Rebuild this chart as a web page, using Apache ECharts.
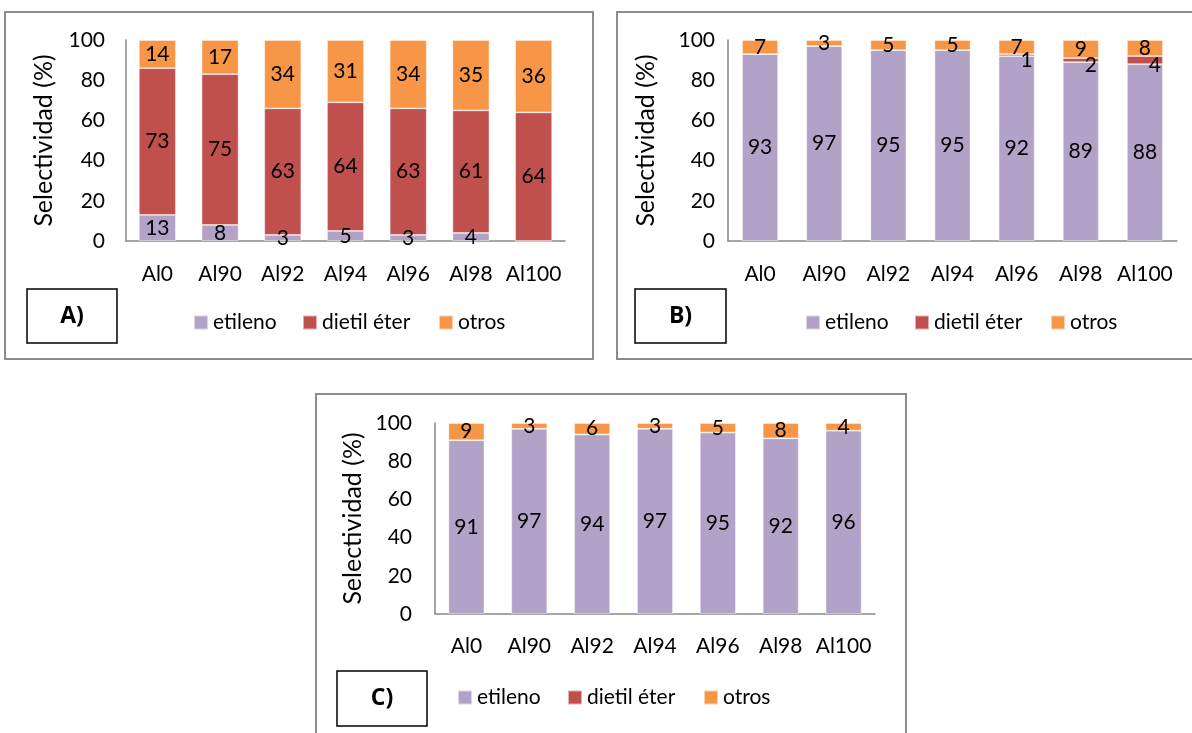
<!DOCTYPE html>
<html>
<head>
<meta charset="utf-8">
<script src="https://cdn.jsdelivr.net/npm/echarts@6/dist/echarts.min.js"></script>
<style>
  html, body { margin: 0; padding: 0; background: #fff; }
  #chart { width: 1192px; height: 733px; }
</style>
</head>
<body>
<div id="chart"></div>
<script>
// Catalysts on the category axis
const categories = ['Al0', 'Al90', 'Al92', 'Al94', 'Al96', 'Al98', 'Al100'];
const yTicks = [0, 20, 40, 60, 80, 100];

// Panel A selectivities (%)
const etilenoA = [13, 8, 3, 5, 3, 4, 0];
const dietilA  = [73, 75, 63, 64, 63, 61, 64];
const otrosA   = [14, 17, 34, 31, 34, 35, 36];

// Panel B selectivities (%)
const etilenoB = [93, 97, 95, 95, 92, 89, 88];
const dietilB  = [0, 0, 0, 0, 1, 2, 4];
const otrosB   = [7, 3, 5, 5, 7, 9, 8];

// Panel C selectivities (%)
const etilenoC = [91, 97, 94, 97, 95, 92, 96];
const dietilC  = [0, 0, 0, 0, 0, 0, 0];
const otrosC   = [9, 3, 6, 3, 5, 8, 4];

const seriesNames = ['etileno', 'dietil éter', 'otros'];
const panelTags = ['A)', 'B)', 'C)'];

const FONT = 'Lato, sans-serif';
const TAG_FONT = '"Open Sans", "DejaVu Sans", sans-serif';
const FS = 21;
const COLORS = { 'etileno': '#B3A2C7', 'dietil éter': '#C0504D', 'otros': '#F79646' };
const AXIS_GRAY = '#898989';

// Layout of each panel: plot area, label margins, frame, tag box and legend spots
const panels = [
  {
    data: [etilenoA, dietilA, otrosA],
    grid: { left: 126, top: 40, width: 439, height: 201 },
    yLabelMargin: 21, xLabelMargin: 23, nameGap: 70, barWidth: 37,
    frame: { x: 5, y: 12, width: 588, height: 347 },
    tag: { x: 27, y: 289, width: 90, height: 54 },
    legendTop: 312, legendLeft: [193, 302, 438],
    smallLabelOffset: [0, 0]
  },
  {
    data: [etilenoB, dietilB, otrosB],
    grid: { left: 728, top: 40, width: 449, height: 201 },
    yLabelMargin: 13, xLabelMargin: 23, nameGap: 70, barWidth: 36,
    frame: { x: 617, y: 12, width: 590, height: 347 },
    tag: { x: 635, y: 289, width: 91, height: 54 },
    legendTop: 312, legendLeft: [805, 914, 1050],
    smallLabelOffset: [10, 5]
  },
  {
    data: [etilenoC, dietilC, otrosC],
    grid: { left: 435, top: 423, width: 440, height: 191 },
    yLabelMargin: 23, xLabelMargin: 22, nameGap: 70, barWidth: 36,
    frame: { x: 316, y: 394, width: 590, height: 360 },
    tag: { x: 337, y: 671, width: 90, height: 55 },
    legendTop: 687, legendLeft: [457, 567, 703],
    smallLabelOffset: [0, 0]
  }
];

const grid = [], xAxis = [], yAxis = [], series = [], legend = [], graphic = [];

panels.forEach((p, i) => {
  grid.push(Object.assign({ containLabel: false }, p.grid));

  xAxis.push({
    type: 'category', gridIndex: i, data: categories,
    axisLine: { show: true, lineStyle: { color: AXIS_GRAY, width: 1.5 } },
    axisTick: { show: false },
    axisLabel: { interval: 0, color: '#000', fontFamily: FONT, fontSize: FS, margin: p.xLabelMargin }
  });

  yAxis.push({
    type: 'value', gridIndex: i,
    min: yTicks[0], max: yTicks[yTicks.length - 1], interval: yTicks[1] - yTicks[0],
    name: 'Selectividad (%)', nameLocation: 'middle', nameRotate: 90, nameGap: p.nameGap,
    nameTextStyle: { color: '#000', fontFamily: FONT, fontSize: 25 },
    axisLine: { show: true, lineStyle: { color: AXIS_GRAY, width: 1.5 } },
    axisTick: { show: false },
    splitLine: { show: false },
    axisLabel: { color: '#000', fontFamily: FONT, fontSize: FS, margin: p.yLabelMargin }
  });

  seriesNames.forEach((name, k) => {
    series.push({
      name: name, type: 'bar', stack: 'panel' + i,
      xAxisIndex: i, yAxisIndex: i,
      barWidth: p.barWidth,
      data: p.data[k],
      itemStyle: { color: COLORS[name], borderColor: 'rgba(255,255,255,0.55)', borderWidth: 0.8 },
      label: {
        show: true, position: 'inside', color: '#000',
        fontFamily: FONT, fontSize: FS,
        offset: k === 1 ? p.smallLabelOffset : [0, 0],
        formatter: (d) => (d.value ? String(d.value) : '')
      },
      emphasis: { disabled: true },
      animation: false
    });

    legend.push({
      data: [name], left: p.legendLeft[k], top: p.legendTop,
      padding: 0, itemWidth: 14, itemHeight: 14, icon: 'rect',
      textStyle: { color: '#000', fontFamily: FONT, fontSize: FS, padding: [0, 0, 0, 0] },
      selectedMode: false
    });
  });

  // Panel frame
  graphic.push({
    type: 'rect', silent: true, z: 0,
    shape: p.frame,
    style: { fill: 'none', stroke: '#8c8c8c', lineWidth: 2 }
  });
  // Panel tag box
  graphic.push({
    type: 'rect', silent: true, z: 10,
    shape: p.tag,
    style: { fill: '#fff', stroke: '#000', lineWidth: 1.5 }
  });
  graphic.push({
    type: 'text', silent: true, z: 11,
    x: p.tag.x + p.tag.width / 2, y: p.tag.y + p.tag.height / 2,
    style: {
      text: panelTags[i], fill: '#000',
      fontFamily: TAG_FONT, fontSize: 23, fontWeight: 'bold',
      align: 'center', verticalAlign: 'middle'
    }
  });
});

const chart = echarts.init(document.getElementById('chart'), null, { renderer: 'canvas' });
chart.setOption({
  backgroundColor: '#fff',
  animation: false,
  grid, xAxis, yAxis, series, legend, graphic
});
</script>
</body>
</html>
